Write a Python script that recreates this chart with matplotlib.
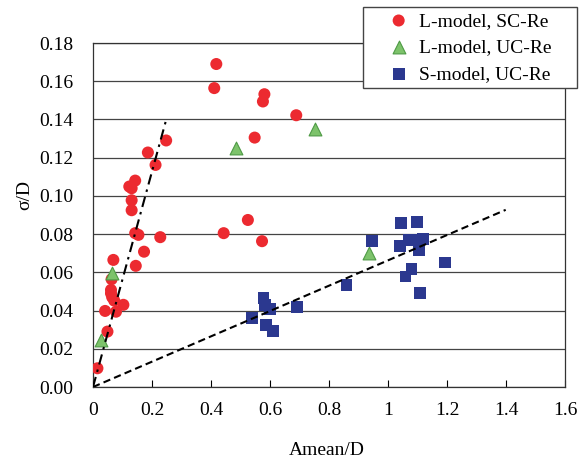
import matplotlib
matplotlib.use('Agg')
import matplotlib.pyplot as plt
from matplotlib.patches import Rectangle
import numpy as np

plt.rcParams['font.family'] = ['Liberation Serif', 'DejaVu Serif']

# --- datos ---
l_sc_x = [0.015, 0.049, 0.041, 0.078, 0.103, 0.072, 0.061, 0.061, 0.063, 0.065,
          0.069, 0.145, 0.173, 0.228, 0.143, 0.154, 0.131, 0.131, 0.123, 0.131,
          0.143, 0.212, 0.186, 0.248, 0.411, 0.418, 0.548, 0.576, 0.581, 0.689,
          0.525, 0.443, 0.573]
l_sc_y = [0.0098, 0.029, 0.0398, 0.0394, 0.043, 0.0452, 0.049, 0.0508, 0.0564, 0.047,
          0.0665, 0.0634, 0.0708, 0.0784, 0.0805, 0.0796, 0.0925, 0.0977, 0.1049, 0.104,
          0.108, 0.1162, 0.1227, 0.129, 0.1564, 0.169, 0.1305, 0.1494, 0.1532, 0.1422,
          0.0874, 0.0805, 0.0763]

l_uc_x = [0.026, 0.066, 0.486, 0.754, 0.937]
l_uc_y = [0.0246, 0.0595, 0.125, 0.1349, 0.0703]

s_uc_x = [0.539, 0.578, 0.582, 0.600, 0.587, 0.610, 0.692, 0.859, 0.947, 1.045,
          1.099, 1.040, 1.071, 1.101, 1.119, 1.106, 1.080, 1.059, 1.194, 1.108]
s_uc_y = [0.0363, 0.0464, 0.043, 0.041, 0.0325, 0.0295, 0.042, 0.0532, 0.0763, 0.0857,
          0.0862, 0.0738, 0.077, 0.077, 0.0773, 0.0717, 0.0616, 0.0578, 0.0651, 0.049]

# lineas de tendencia
fit_l_x = [0.0, 0.248]
fit_l_y = [0.0, 0.1398]
fit_s_x = [0.0, 1.399]
fit_s_y = [0.0, 0.0927]

fig = plt.figure(figsize=(5.85, 4.61), dpi=100)
ax = fig.add_axes([93/585, 74/461, 472/585, 344/461])

ax.scatter(l_sc_x, l_sc_y, s=75, marker='o', color='#EC2A30', edgecolors='none',
           label='L-model, SC-Re', zorder=3)
ax.scatter(l_uc_x, l_uc_y, s=85, marker='^', color='#7DC36B', edgecolors='#4E9A45',
           linewidths=0.8, label='L-model, UC-Re', zorder=3)
ax.scatter(s_uc_x, s_uc_y, s=72, marker='s', color='#2B388F', edgecolors='none',
           label='S-model, UC-Re', zorder=3)

ax.plot(fit_l_x, fit_l_y, color='black', lw=1.5, dashes=(5, 2.5, 1.2, 2.5), zorder=4)
ax.plot(fit_s_x, fit_s_y, color='black', lw=1.5, dashes=(3.5, 2), zorder=4)

# Estilo y etiquetas
ax.set_xlim(0, 1.6)
ax.set_ylim(0, 0.18)
ax.set_xticks(np.arange(0, 1.61, 0.2))
ax.set_xticklabels(['0', '0.2', '0.4', '0.6', '0.8', '1', '1.2', '1.4', '1.6'])
ax.set_yticks(np.arange(0, 0.181, 0.02))
ax.set_yticklabels([f'{v:.2f}' for v in np.arange(0, 0.181, 0.02)])
ax.tick_params(axis='x', direction='in', length=5, pad=11, labelsize=14)
ax.tick_params(axis='y', direction='in', length=0, pad=14, labelsize=14)
ax.yaxis.grid(True, color='#444444', lw=0.9)
ax.set_axisbelow(True)
for sp in ax.spines.values():
    sp.set_color('#333333')
    sp.set_linewidth(0.9)

fig.text(25/585, 1 - 195/461, 'σ/D', rotation=90, ha='center', va='center', fontsize=14)
fig.text(327/585, 1 - 450/461, 'Amean/D', ha='center', va='center', fontsize=14)

# caja de la leyenda
fig.patches.append(Rectangle((363/585, 1 - 88/461), 214/585, 81/461,
                             transform=fig.transFigure, facecolor='white',
                             edgecolor='#444444', lw=1.0, zorder=5))
leg = fig.legend(loc='upper left', bbox_to_anchor=(387/585, 1 - 12/461), fontsize=14,
                 frameon=False, handletextpad=0.45, borderpad=0, borderaxespad=0,
                 labelspacing=0.46, handlelength=1.2, scatterpoints=1)
leg.set_zorder(6)

fig.savefig('out.png', dpi=100)
